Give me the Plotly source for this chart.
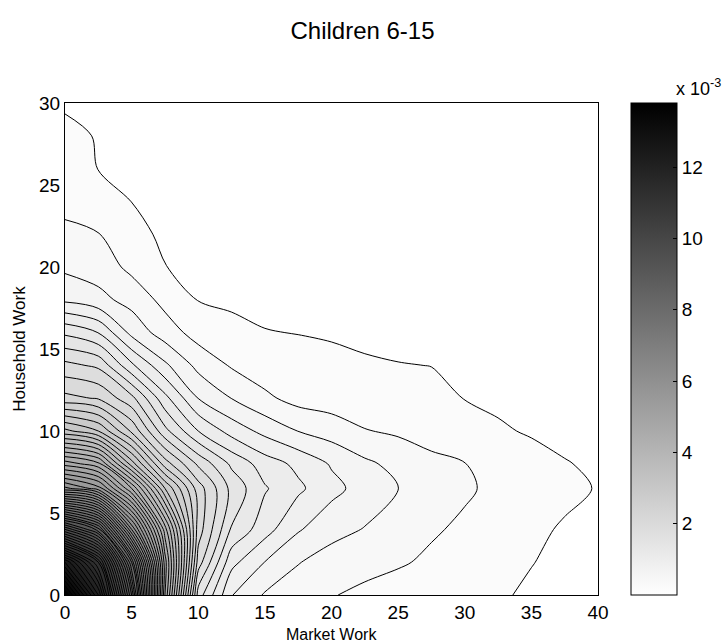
import plotly.graph_objects as go

# Market work (x) and household work (y) grid positions
market_work = [0, 2.5, 5, 7.5, 10, 12.5, 15, 17.5, 20, 22.5, 25, 27.5, 30, 32.5, 35, 37.5, 40]
household_work = [0, 2, 4, 6.5, 8, 10, 12, 14, 16, 18, 20, 22, 24, 26, 28, 30]

# Estimated density (units of 1e-3), one row per household_work value
dens_y0 = [13.8, 12.0, 8.8, 4.4, 1.5, 0.81, 0.58, 0.49, 0.41, 0.36, 0.32, 0.28, 0.25, 0.216, 0.18, 0.15, 0.12]
dens_y2 = [12.4, 11.0, 8.0, 4.5, 1.9, 1.06, 0.796, 0.61, 0.51, 0.46, 0.42, 0.37, 0.32, 0.27, 0.204, 0.17, 0.136]
dens_y4 = [9.6, 8.7, 6.2, 4.1, 2.1, 1.38, 1.08, 0.82, 0.67, 0.59, 0.52, 0.42, 0.37, 0.31, 0.24, 0.18, 0.15]
dens_y6 = [5.86, 5.5, 4.4, 3.0, 2.1, 1.54, 1.22, 1.04, 0.86, 0.72, 0.604, 0.5, 0.424, 0.36, 0.3, 0.244, 0.19]
dens_y8 = [4.72, 4.46, 3.3, 2.3, 1.76, 1.36, 1.1, 0.95, 0.78, 0.64, 0.54, 0.45, 0.404, 0.32, 0.26, 0.21, 0.17]
dens_y10 = [3.26, 3.0, 2.36, 1.66, 1.2, 0.92, 0.74, 0.596, 0.51, 0.41, 0.37, 0.32, 0.29, 0.22, 0.184, 0.15, 0.13]
dens_y12 = [2.26, 2.18, 1.86, 1.26, 0.796, 0.596, 0.44, 0.33, 0.3, 0.28, 0.26, 0.24, 0.196, 0.17, 0.14, 0.12, 0.1]
dens_y14 = [1.86, 1.76, 1.24, 0.84, 0.54, 0.38, 0.29, 0.26, 0.25, 0.22, 0.206, 0.198, 0.16, 0.13, 0.11, 0.096, 0.084]
dens_y16 = [1.36, 1.196, 0.74, 0.5, 0.32, 0.25, 0.206, 0.196, 0.18, 0.164, 0.15, 0.14, 0.12, 0.1, 0.09, 0.08, 0.07]
dens_y18 = [0.76, 0.66, 0.53, 0.34, 0.194, 0.17, 0.16, 0.15, 0.14, 0.13, 0.12, 0.11, 0.1, 0.084, 0.076, 0.066, 0.06]
dens_y20 = [0.56, 0.51, 0.35, 0.204, 0.16, 0.14, 0.13, 0.12, 0.11, 0.1, 0.09, 0.084, 0.08, 0.07, 0.06, 0.054, 0.05]
dens_y22 = [0.44, 0.406, 0.27, 0.16, 0.14, 0.124, 0.112, 0.104, 0.096, 0.09, 0.084, 0.076, 0.07, 0.064, 0.056, 0.05, 0.044]
dens_y24 = [0.35, 0.3, 0.198, 0.14, 0.12, 0.11, 0.1, 0.092, 0.084, 0.08, 0.074, 0.068, 0.062, 0.056, 0.05, 0.044, 0.04]
dens_y26 = [0.3, 0.196, 0.17, 0.124, 0.106, 0.096, 0.088, 0.08, 0.074, 0.07, 0.064, 0.06, 0.054, 0.05, 0.044, 0.04, 0.036]
dens_y28 = [0.24, 0.19, 0.16, 0.11, 0.094, 0.084, 0.076, 0.07, 0.064, 0.06, 0.056, 0.052, 0.048, 0.044, 0.04, 0.036, 0.032]
dens_y30 = [0.18, 0.17, 0.15, 0.1, 0.084, 0.076, 0.068, 0.062, 0.056, 0.052, 0.048, 0.044, 0.04, 0.038, 0.034, 0.032, 0.028]

density = [dens_y0, dens_y2, dens_y4, dens_y6, dens_y8, dens_y10, dens_y12, dens_y14,
           dens_y16, dens_y18, dens_y20, dens_y22, dens_y24, dens_y26, dens_y28, dens_y30]

x_ticks = [0, 5, 10, 15, 20, 25, 30, 35, 40]
y_ticks = [0, 5, 10, 15, 20, 25, 30]
cbar_ticks = [2, 4, 6, 8, 10, 12]
cmin, cmax = 0.0, 13.8

gray_scale = [[0, "#ffffff"], [1, "#000000"]]
font_family = "Liberation Sans, Arial, sans-serif"

# pixel layout of the plotting area
L_PX, R_PX, T_PX, B_PX = 65, 598, 103, 595
W, H = 725, 644
plot_w = R_PX - L_PX
plot_h = B_PX - T_PX
cb_left = (631 - L_PX) / plot_w

fig = go.Figure()
fig.add_trace(go.Contour(
    x=market_work, y=household_work, z=density,
    autocontour=False,
    contours=dict(start=0.2, end=13.6, size=0.2, coloring="fill", showlines=True),
    line=dict(color="black", width=1.0, smoothing=0.9),
    colorscale=gray_scale, zmin=cmin, zmax=cmax,
    showscale=False, hoverinfo="skip",
))
# colorbar carrier
fig.add_trace(go.Scatter(
    x=[None], y=[None], mode="markers", showlegend=False, hoverinfo="skip",
    marker=dict(color=[cmin], cmin=cmin, cmax=cmax, colorscale=gray_scale, showscale=True,
                colorbar=dict(x=cb_left, xanchor="left", xref="paper", xpad=0, ypad=0,
                              y=0.5, yanchor="middle", len=1, lenmode="fraction",
                              thickness=46, thicknessmode="pixels",
                              outlinecolor="black", outlinewidth=1,
                              tickvals=cbar_ticks, ticktext=[str(t) for t in cbar_ticks],
                              ticks="inside", ticklen=4, tickcolor="black",
                              tickfont=dict(size=19, color="black", family=font_family))),
))

# small ticks on the left side of the colorbar (as in the reference)
shapes = []
for t in cbar_ticks:
    yp = (t - cmin) / (cmax - cmin)
    shapes.append(dict(type="line", xref="paper", yref="paper",
                       x0=cb_left, x1=cb_left + 4 / plot_w, y0=yp, y1=yp,
                       line=dict(color="black", width=1)))

fig.update_layout(
    width=W, height=H,
    margin=dict(l=L_PX, r=W - R_PX, t=T_PX, b=H - B_PX, autoexpand=False),
    paper_bgcolor="white", plot_bgcolor="white",
    font=dict(family=font_family, color="black", size=19),
    title=dict(text="Children 6-15", x=0.5, xanchor="center", y=1 - 31 / H, yanchor="middle",
               font=dict(size=24, color="black", family=font_family)),
    showlegend=False,
    shapes=shapes,
    annotations=[
        dict(text="x 10<sup>-3</sup>", xref="paper", yref="paper",
             x=(674 - L_PX) / plot_w, xanchor="left", y=1.004, yanchor="bottom",
             showarrow=False, font=dict(size=18, color="black", family=font_family)),
        dict(text="Market Work", xref="paper", yref="paper",
             x=0.5, xanchor="center", y=-(634 - B_PX) / plot_h, yanchor="middle",
             showarrow=False, font=dict(size=16, color="black", family=font_family)),
    ],
)
fig.update_xaxes(range=[0, 40], tickvals=x_ticks, showgrid=False, zeroline=False,
                 showline=True, linecolor="black", linewidth=1, mirror=True, ticks="",
                 tickfont=dict(size=19), ticklabelstandoff=0, automargin=False)
fig.update_yaxes(range=[0, 30], tickvals=y_ticks, showgrid=False, zeroline=False,
                 showline=True, linecolor="black", linewidth=1, mirror=True, ticks="",
                 tickfont=dict(size=19), automargin=False,
                 title=dict(text="Household Work", standoff=9, font=dict(size=17)))

fig.write_html("out.html")
